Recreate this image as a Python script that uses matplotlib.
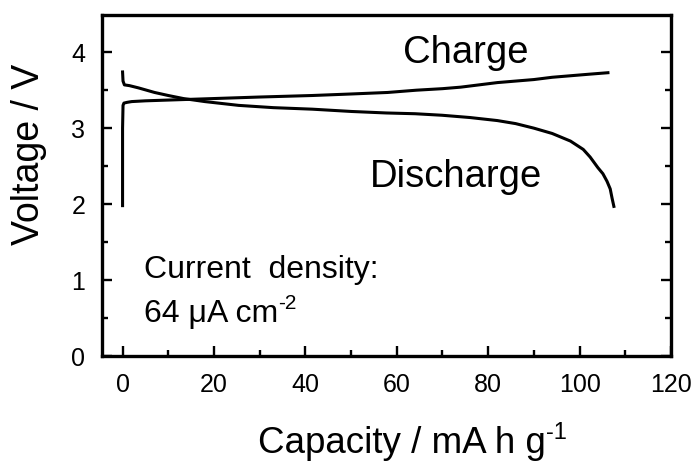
import matplotlib
matplotlib.use("Agg")
import matplotlib.pyplot as plt
from matplotlib.ticker import MultipleLocator
from matplotlib.transforms import offset_copy

plt.rcParams['font.family'] = ['Liberation Sans', 'DejaVu Sans']

# Charge curve: capacity (mA h g-1) vs voltage (V)
charge_capacity = [0, 0, 0.1, 0.3, 1, 2, 5, 10, 15, 20, 30, 41.5, 50, 58, 64.3,
                   70, 74, 78, 82, 86, 90, 94, 98, 102, 106.2]
charge_voltage = [1.98, 3.00, 3.30, 3.33, 3.34, 3.35, 3.36, 3.37, 3.38, 3.39, 3.41,
                  3.43, 3.45, 3.47, 3.50, 3.52, 3.54, 3.57, 3.60, 3.62, 3.64, 3.67,
                  3.69, 3.71, 3.73]

# Discharge curve
discharge_capacity = [0, 0.1, 0.4, 1.5, 3.5, 7, 10, 13.3, 18, 25.4, 33, 41.5, 50,
                      57.7, 64, 69.9, 76, 82, 86, 90, 94, 98, 100.8, 102.3, 104,
                      105.1, 106, 106.7, 107.1, 107.5]
discharge_voltage = [3.74, 3.62, 3.57, 3.56, 3.53, 3.47, 3.43, 3.39, 3.35, 3.30,
                     3.27, 3.25, 3.22, 3.20, 3.19, 3.17, 3.14, 3.10, 3.06, 3.00,
                     2.93, 2.83, 2.72, 2.62, 2.48, 2.40, 2.30, 2.20, 2.08, 1.97]

x_ticks = [0, 20, 40, 60, 80, 100, 120]
y_ticks = [0, 1, 2, 3, 4]

W, H = 700, 462
fig = plt.figure(figsize=(W / 100, H / 100), dpi=100)
left, right, top, bottom = 102, 671, 15, 356
ax = fig.add_axes([left / W, 1 - bottom / H, (right - left) / W, (bottom - top) / H])

lw = 2.2
ax.plot(charge_capacity, charge_voltage, color='black', lw=lw, solid_joinstyle='round')
ax.plot(discharge_capacity, discharge_voltage, color='black', lw=lw, solid_joinstyle='round')

ax.set_xlim(-4.5, 120)
ax.set_ylim(0, 4.49)
ax.set_xticks(x_ticks)
ax.set_yticks(y_ticks)
ax.xaxis.set_minor_locator(MultipleLocator(10))
ax.yaxis.set_minor_locator(MultipleLocator(0.5))
ax.tick_params(which='both', direction='in', right=True, top=False, width=1.7,
               labelsize=18, colors='black')
ax.tick_params(which='major', length=7)
ax.tick_params(which='minor', length=4)
ax.tick_params(axis='x', which='major', pad=12)
ax.tick_params(axis='y', which='major', pad=12)
for s in ax.spines.values():
    s.set_linewidth(2.4)

ax.text(61.4, 3.855, 'Charge', fontsize=27.5, va='baseline', ha='left')
ax.text(54.2, 2.22, 'Discharge', fontsize=27.5, va='baseline', ha='left')
ax.text(4.6, 1.03, 'Current  density:', fontsize=23, va='baseline', ha='left')

renderer = fig.canvas.get_renderer()


def with_superscript(base, sup, size, sup_size, rise):
    """Draw `base` text and append a raised, smaller `sup` right after it."""
    ext = base.get_window_extent(renderer=renderer)
    tr = offset_copy(fig.transFigure, fig=fig, x=0, y=rise, units='points')
    x_fig = ext.x1 / W
    y_fig = base.get_position()[1]
    if base.get_transform() != fig.transFigure:
        y_fig = base.get_transform().transform(base.get_position())[1] / H
    fig.text(x_fig, y_fig, sup, fontsize=sup_size, ha='left', va='baseline',
             transform=tr)


t_cd = ax.text(4.6, 0.45, '64 μA cm', fontsize=23, va='baseline', ha='left')
with_superscript(t_cd, '-2', 23, 15, 9)

t_xl = fig.text(258 / W, 1 - 453 / H, 'Capacity / mA h g', fontsize=26.5,
                ha='left', va='baseline')
with_superscript(t_xl, '-1', 26.5, 17, 10)

fig.text(29 / W, 1 - 245 / H, 'Voltage / V', fontsize=27, rotation=90,
         ha='center', va='bottom')

fig.savefig('out.png', dpi=100)
